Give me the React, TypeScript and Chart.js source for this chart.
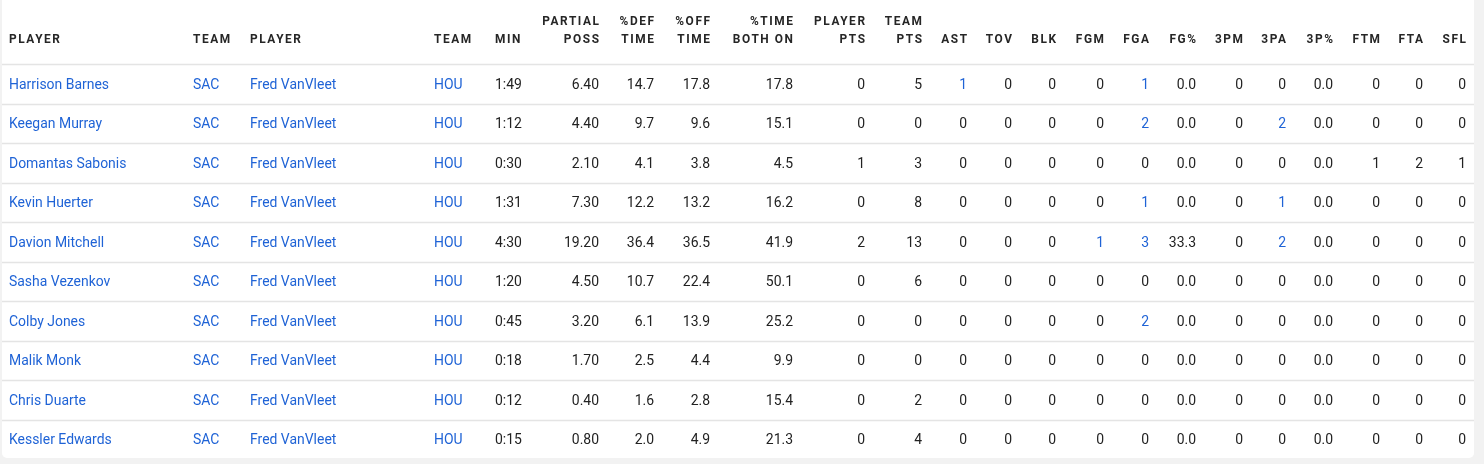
import { useEffect, useRef } from 'react';
import { Chart, registerables } from 'chart.js';

Chart.register(...registerables);

// ---- data ----
const players = ['Harrison Barnes', 'Keegan Murray', 'Domantas Sabonis', 'Kevin Huerter', 'Davion Mitchell', 'Sasha Vezenkov', 'Colby Jones', 'Malik Monk', 'Chris Duarte', 'Kessler Edwards'];
const teams = ['SAC', 'SAC', 'SAC', 'SAC', 'SAC', 'SAC', 'SAC', 'SAC', 'SAC', 'SAC'];
const vsPlayers = ['Fred VanVleet', 'Fred VanVleet', 'Fred VanVleet', 'Fred VanVleet', 'Fred VanVleet', 'Fred VanVleet', 'Fred VanVleet', 'Fred VanVleet', 'Fred VanVleet', 'Fred VanVleet'];
const vsTeams = ['HOU', 'HOU', 'HOU', 'HOU', 'HOU', 'HOU', 'HOU', 'HOU', 'HOU', 'HOU'];
const minutes = ['1:49', '1:12', '0:30', '1:31', '4:30', '1:20', '0:45', '0:18', '0:12', '0:15'];
const partialPoss = [6.4, 4.4, 2.1, 7.3, 19.2, 4.5, 3.2, 1.7, 0.4, 0.8];
const pctDefTime = [14.7, 9.7, 4.1, 12.2, 36.4, 10.7, 6.1, 2.5, 1.6, 2.0];
const pctOffTime = [17.8, 9.6, 3.8, 13.2, 36.5, 22.4, 13.9, 4.4, 2.8, 4.9];
const pctTimeBothOn = [17.8, 15.1, 4.5, 16.2, 41.9, 50.1, 25.2, 9.9, 15.4, 21.3];
const playerPts = [0, 0, 1, 0, 2, 0, 0, 0, 0, 0];
const teamPts = [5, 0, 3, 8, 13, 6, 0, 0, 2, 4];
const ast = [1, 0, 0, 0, 0, 0, 0, 0, 0, 0];
const tov = [0, 0, 0, 0, 0, 0, 0, 0, 0, 0];
const blk = [0, 0, 0, 0, 0, 0, 0, 0, 0, 0];
const fgm = [0, 0, 0, 0, 1, 0, 0, 0, 0, 0];
const fga = [1, 2, 0, 1, 3, 0, 2, 0, 0, 0];
const fgPct = [0.0, 0.0, 0.0, 0.0, 33.3, 0.0, 0.0, 0.0, 0.0, 0.0];
const tpm = [0, 0, 0, 0, 0, 0, 0, 0, 0, 0];
const tpa = [0, 2, 0, 1, 2, 0, 0, 0, 0, 0];
const tpPct = [0.0, 0.0, 0.0, 0.0, 0.0, 0.0, 0.0, 0.0, 0.0, 0.0];
const ftm = [0, 0, 1, 0, 0, 0, 0, 0, 0, 0];
const fta = [0, 0, 2, 0, 0, 0, 0, 0, 0, 0];
const sfl = [0, 0, 1, 0, 0, 0, 0, 0, 0, 0];

const headers = [
  ['PLAYER'], ['TEAM'], ['PLAYER'], ['TEAM'], ['MIN'], ['PARTIAL', 'POSS'], ['%DEF', 'TIME'], ['%OFF', 'TIME'],
  ['%TIME', 'BOTH ON'], ['PLAYER', 'PTS'], ['TEAM', 'PTS'], ['AST'], ['TOV'], ['BLK'], ['FGM'], ['FGA'], ['FG%'],
  ['3PM'], ['3PA'], ['3P%'], ['FTM'], ['FTA'], ['SFL'],
];

// ---- layout (column anchors on the x scale, alignment, style) ----
const colX = [9, 193, 250, 434, 495, 599, 654, 710, 793, 865, 922, 967, 1012, 1056, 1104, 1149, 1196, 1243, 1286, 1333, 1380, 1423, 1466];
const colAlign = ['left', 'left', 'left', 'left', 'left', 'right', 'right', 'right', 'right', 'right', 'right', 'right', 'right', 'right', 'right', 'right', 'right', 'right', 'right', 'right', 'right', 'right', 'right'];
const LINK = '#1f63d6';
const TEXT = '#222222';
const SX_HEAD = 0.88;
const SX_BODY = 0.93;

type Cell = { text: string; link: boolean };

function buildRows(): Cell[][] {
  const n = (v: number, link = false): Cell => ({ text: String(v), link: link && v > 0 });
  const f = (v: number, d: number): Cell => ({ text: v.toFixed(d), link: false });
  return players.map((p, i) => [
    { text: p, link: true },
    { text: teams[i], link: true },
    { text: vsPlayers[i], link: true },
    { text: vsTeams[i], link: true },
    { text: minutes[i], link: false },
    f(partialPoss[i], 2),
    f(pctDefTime[i], 1),
    f(pctOffTime[i], 1),
    f(pctTimeBothOn[i], 1),
    n(playerPts[i]),
    n(teamPts[i]),
    n(ast[i], true),
    n(tov[i], true),
    n(blk[i], true),
    n(fgm[i], true),
    n(fga[i], true),
    f(fgPct[i], 1),
    n(tpm[i], true),
    n(tpa[i], true),
    f(tpPct[i], 1),
    n(ftm[i]),
    n(fta[i]),
    n(sfl[i]),
  ]);
}

function drawText(ctx: CanvasRenderingContext2D, text: string, x: number, y: number, align: string, font: string, color: string, ls: number, sx: number) {
  ctx.save();
  ctx.font = font;
  ctx.fillStyle = color;
  ctx.textBaseline = 'middle';
  ctx.textAlign = align as CanvasTextAlign;
  (ctx as any).letterSpacing = ls + 'px';
  const dx = align === 'right' ? ls * sx : 0;
  ctx.translate(x + dx, y);
  ctx.scale(sx, 1);
  ctx.fillText(text, 0, 0);
  ctx.restore();
}

export default function App() {
  const ref = useRef<HTMLCanvasElement | null>(null);
  useEffect(() => {
    document.body.style.margin = '0';
    document.body.style.background = '#f2f2f2';
    const rows = buildRows();
    const tablePlugin = {
      id: 'tablePlugin',
      beforeDraw(chart: any) {
        const ctx = chart.ctx as CanvasRenderingContext2D;
        const xs = chart.scales.x;
        const ys = chart.scales.y;
        ctx.save();
        ctx.fillStyle = '#f2f2f2';
        ctx.fillRect(0, 0, chart.width, chart.height);
        ctx.fillStyle = '#ffffff';
        const left = xs.getPixelForValue(2);
        const right = xs.getPixelForValue(1474);
        const bottom = ys.getPixelForValue(rows.length) - 1;
        ctx.beginPath();
        (ctx as any).roundRect(left, -10, right - left, bottom + 10, 5);
        ctx.fill();
        ctx.restore();
      },
      afterDraw(chart: any) {
        const ctx = chart.ctx as CanvasRenderingContext2D;
        const xs = chart.scales.x;
        const ys = chart.scales.y;
        const left = xs.getPixelForValue(2);
        const right = xs.getPixelForValue(1474);
        // separators
        ctx.save();
        ctx.strokeStyle = '#e4e4e4';
        ctx.lineWidth = 1.5;
        for (let r = 0; r < rows.length; r++) {
          const y = Math.round(ys.getPixelForValue(r)) + 0.5;
          ctx.beginPath();
          ctx.moveTo(left, y);
          ctx.lineTo(right, y);
          ctx.stroke();
        }
        ctx.restore();
        // header
        const headBottom = ys.getPixelForValue(0);
        headers.forEach((lines, c) => {
          const x = xs.getPixelForValue(colX[c]);
          const ys2 = lines.length === 2 ? [headBottom - 42, headBottom - 24.5] : [headBottom - 24.5];
          lines.forEach((t, k) => drawText(ctx, t, x, ys2[k], colAlign[c], 'bold 13.5px Roboto', '#262626', 1.8, SX_HEAD));
        });
        // body
        rows.forEach((row, r) => {
          const y = ys.getPixelForValue(r + 0.5) + 1;
          row.forEach((cell, c) => {
            const x = xs.getPixelForValue(colX[c]);
            drawText(ctx, cell.text, x, y, colAlign[c], '15px Roboto', cell.link ? LINK : TEXT, 0, SX_BODY);
          });
        });
      },
    };
    const chart = new Chart(ref.current as HTMLCanvasElement, {
      type: 'scatter',
      data: { datasets: [{ data: [], pointRadius: 0 }] },
      options: {
        animation: false,
        responsive: true,
        maintainAspectRatio: false,
        layout: { padding: { top: 64, bottom: 5, left: 0, right: 0 } },
        plugins: { legend: { display: false }, tooltip: { enabled: false } },
        scales: {
          x: { type: 'linear', min: 0, max: 1484, display: false },
          y: { type: 'linear', min: 0, max: 10, reverse: true, display: false },
        },
      },
      plugins: [tablePlugin],
    });
    return () => chart.destroy();
  }, []);
  return (
    <div style={{ width: 1484, height: 464, position: 'relative' }}>
      <canvas ref={ref} />
    </div>
  );
}
